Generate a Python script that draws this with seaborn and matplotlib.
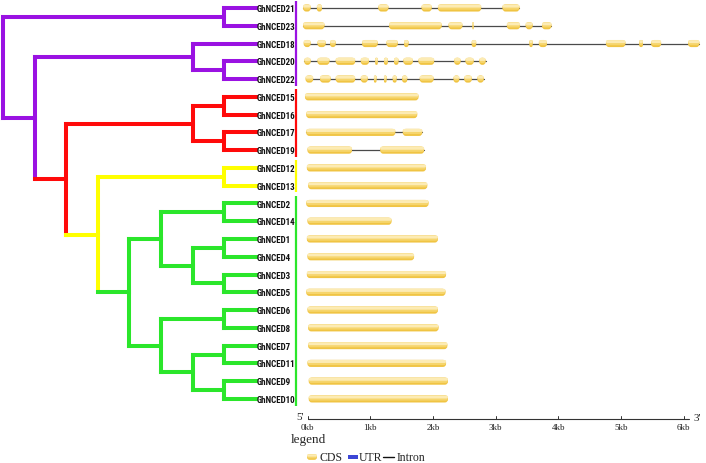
import numpy as np
import pandas as pd
import seaborn as sns
import matplotlib.pyplot as plt
from matplotlib.patches import FancyBboxPatch
from matplotlib import font_manager as fm

# ---------------- data ----------------
genes = ['GhNCED21', 'GhNCED23', 'GhNCED18', 'GhNCED20', 'GhNCED22',
         'GhNCED15', 'GhNCED16', 'GhNCED17', 'GhNCED19',
         'GhNCED12', 'GhNCED13',
         'GhNCED2', 'GhNCED14', 'GhNCED1', 'GhNCED4', 'GhNCED3', 'GhNCED5',
         'GhNCED6', 'GhNCED8', 'GhNCED7', 'GhNCED11', 'GhNCED9', 'GhNCED10']

# cladogram: (clade colour, node depth, children)
tree = ('purple', 0, [
    ('purple', 7, ['GhNCED21', 'GhNCED23']),
    ('purple', 1, [
        ('purple', 6, ['GhNCED18', ('purple', 7, ['GhNCED20', 'GhNCED22'])]),
        ('red', 2, [
            ('red', 6, [('red', 7, ['GhNCED15', 'GhNCED16']),
                        ('red', 7, ['GhNCED17', 'GhNCED19'])]),
            ('yellow', 3, [
                ('yellow', 7, ['GhNCED12', 'GhNCED13']),
                ('green', 4, [
                    ('green', 5, [('green', 7, ['GhNCED2', 'GhNCED14']),
                                  ('green', 6, [('green', 7, ['GhNCED1', 'GhNCED4']),
                                                ('green', 7, ['GhNCED3', 'GhNCED5'])])]),
                    ('green', 5, [('green', 7, ['GhNCED6', 'GhNCED8']),
                                  ('green', 6, [('green', 7, ['GhNCED7', 'GhNCED11']),
                                                ('green', 7, ['GhNCED9', 'GhNCED10'])])]),
                ]),
            ]),
        ]),
    ]),
])
leaf_depth = 8

clade_names = ['purple', 'red', 'yellow', 'green']
clade_first = ['GhNCED21', 'GhNCED15', 'GhNCED12', 'GhNCED2']
clade_last = ['GhNCED22', 'GhNCED19', 'GhNCED13', 'GhNCED10']
palette = {'purple': '#9A12E2', 'red': '#FF0A0A', 'yellow': '#FFFF00', 'green': '#2BE62B'}

# exon (CDS) positions in kb
exons = {
    'GhNCED21': [(-0.07, 0.05), (0.15, 0.23), (1.13, 1.29), (1.82, 1.98), (2.08, 2.77), (3.11, 3.38)],
    'GhNCED23': [(-0.07, 0.27), (1.30, 2.14), (2.25, 2.47), (2.63, 2.65), (3.18, 3.39), (3.48, 3.59), (3.74, 3.89)],
    'GhNCED18': [(-0.06, 0.05), (0.16, 0.29), (0.36, 0.45), (0.87, 1.12), (1.26, 1.44), (1.54, 1.61),
                 (2.62, 2.69), (3.54, 3.59), (3.69, 3.82), (4.76, 5.07), (5.29, 5.35), (5.48, 5.64), (6.07, 6.25)],
    'GhNCED20': [(-0.05, 0.05), (0.16, 0.35), (0.45, 0.76), (0.85, 0.98), (1.08, 1.12), (1.22, 1.28),
                 (1.38, 1.45), (1.53, 1.68), (1.77, 2.02), (2.34, 2.44), (2.52, 2.65), (2.74, 2.84)],
    'GhNCED22': [(-0.03, 0.09), (0.20, 0.37), (0.45, 0.76), (0.85, 0.96), (1.06, 1.10), (1.22, 1.26),
                 (1.36, 1.42), (1.51, 1.59), (1.79, 2.01), (2.33, 2.42), (2.50, 2.62), (2.71, 2.81)],
    'GhNCED15': [(-0.04, 1.77)],
    'GhNCED16': [(-0.02, 1.75)],
    'GhNCED17': [(-0.02, 1.40), (1.52, 1.83)],
    'GhNCED19': [(0.00, 0.71), (1.16, 1.86)],
    'GhNCED12': [(-0.01, 1.89)],
    'GhNCED13': [(0.01, 1.91)],
    'GhNCED2': [(-0.02, 1.93)],
    'GhNCED14': [(0.00, 1.34)],
    'GhNCED1': [(-0.01, 2.08)],
    'GhNCED4': [(0.00, 1.70)],
    'GhNCED3': [(-0.01, 2.21)],
    'GhNCED5': [(-0.02, 2.20)],
    'GhNCED6': [(0.00, 2.08)],
    'GhNCED8': [(0.01, 2.09)],
    'GhNCED7': [(0.01, 2.23)],
    'GhNCED11': [(0.00, 2.21)],
    'GhNCED9': [(0.02, 2.24)],
    'GhNCED10': [(0.02, 2.24)],
}
scale_ticks = [0, 1, 2, 3, 4, 5, 6]
scale_labels = ['0kb', '1kb', '2kb', '3kb', '4kb', '5kb', '6kb']
scale_end = 6.08
legend_labels = ['CDS', 'UTR', 'Intron']

# ---------------- style ----------------
sns.set_style('white')
plt.rcParams['font.family'] = ['Liberation Sans', 'DejaVu Sans']
serif = ['Liberation Serif', 'DejaVu Serif']

# find a condensed bold sans font for the gene labels
label_prop = None
files = [f.fname for f in fm.fontManager.ttflist]
for key, size in [('LiberationSansNarrow-Bold.', 6.3), ('RobotoCondensed-Bold', 6.5),
                  ('Roboto_Condensed-Bold', 6.5), ('OpenSans_Condensed-Bold', 6.2),
                  ('OpenSansCondensed-Bold', 6.2), ('DejaVuSansCondensed-Bold.', 5.55)]:
    hits = [p for p in files if key in p.replace(' ', '')]
    if hits:
        label_prop = fm.FontProperties(fname=hits[0], size=size)
        break
if label_prop is None:
    label_prop = fm.FontProperties(family=['Liberation Sans', 'DejaVu Sans'], weight='bold', size=5.3)

W, H = 706, 464
fig = plt.figure(figsize=(W / 100, H / 100), dpi=100)

ROW0, ROWPX = 9.0, 17.77          # pixel of first row, pixels per row
ylims = ((H - ROW0) / ROWPX, -ROW0 / ROWPX)

LEV0, LEVPX = 3.0, 31.625
ax_t = fig.add_axes([0, 0, 300 / W, 1])
KB0, KBPX = 307.5, 62.7
ax_g = fig.add_axes([290 / W, 0, 416 / W, 1])

row = {g: i for i, g in enumerate(genes)}

# ---------------- tree ----------------
segs = []


def layout(node):
    color, level, kids = node
    ys = []
    for k in kids:
        if isinstance(k, str):
            ky, klev, kcol = row[k], leaf_depth, color
        else:
            ky, klev, kcol = layout(k), k[1], k[0]
        segs.append(([level, klev], [ky, ky], kcol))
        ys.append(ky)
    segs.append(([level, level], [min(ys), max(ys)], color))
    return (min(ys) + max(ys)) / 2


layout(tree)
rows = []
for i, (xs, ys, c) in enumerate(segs):
    for x, y in zip(xs, ys):
        rows.append({'x': x, 'y': y, 'seg': i, 'clade': c})
edges = pd.DataFrame(rows)
sns.lineplot(data=edges, x='x', y='y', units='seg', hue='clade', palette=palette,
             estimator=None, sort=False, linewidth=2.9, legend=False, ax=ax_t,
             solid_capstyle='projecting')

for g in genes:
    ax_t.text(leaf_depth + 0.03, row[g] + 0.03, g, va='center', ha='left',
              fontproperties=label_prop, color='#111111')

bar_x = (296 - LEV0) / LEVPX
for c, a, b in zip(clade_names, clade_first, clade_last):
    ax_t.plot([bar_x, bar_x], [row[a] - 0.42, row[b] + 0.38], color=palette[c], lw=1.6,
              solid_capstyle='butt')

ax_t.set_xlim(-LEV0 / LEVPX, (300 - LEV0) / LEVPX)
ax_t.set_ylim(*ylims)
ax_t.axis('off')

# ---------------- gene structures ----------------
irows = []
for g in genes:
    ex = exons[g]
    if len(ex) > 1:
        irows.append({'x': ex[0][0], 'y': row[g], 'gene': g})
        irows.append({'x': ex[-1][1], 'y': row[g], 'gene': g})
introns = pd.DataFrame(irows)
sns.lineplot(data=introns, x='x', y='y', units='gene', estimator=None, sort=False,
             color='#4a4a4a', linewidth=0.9, legend=False, ax=ax_g)

asp = KBPX / ROWPX
h = 0.40


def exon_patch(ax, s, e, y, hh, fc, z=3):
    w = e - s
    rs = min(0.05, w / 2 * 0.95, hh / asp / 2 * 0.95)
    p = FancyBboxPatch((s, y - hh / 2), w, hh, boxstyle=f'round,pad=0,rounding_size={rs}',
                       mutation_aspect=asp, fc=fc, ec='none', zorder=z)
    ax.add_patch(p)


def exon(ax, s, e, y, hh):
    exon_patch(ax, s, e, y, hh, '#F0C443', 3)
    exon_patch(ax, s, e, y - hh * 0.12, hh * 0.72, '#F6D56C', 4)
    exon_patch(ax, s, e, y - hh * 0.27, hh * 0.42, '#FCEBB4', 5)


for g in genes:
    for s, e in exons[g]:
        exon(ax_g, s, e, row[g], h)

# scale bar
ya = (420 - ROW0) / ROWPX
ax_g.plot([0, scale_end], [ya, ya], color='#333333', lw=0.8)
for t, lab in zip(scale_ticks, scale_labels):
    ax_g.plot([t, t], [ya, ya - 3 / ROWPX], color='#333333', lw=0.7)
    ax_g.text(t, (428 - ROW0) / ROWPX, lab, ha='center', va='center', fontsize=6.5,
              family=serif, color='#222222')
ax_g.text((300 - KB0) / KBPX, (417 - ROW0) / ROWPX, "5'", ha='center', va='center',
          fontsize=8, family=serif)
ax_g.text((697 - KB0) / KBPX, (419 - ROW0) / ROWPX, "3'", ha='center', va='center',
          fontsize=8, family=serif)

# legend
ax_g.text((291 - KB0) / KBPX, (440 - ROW0) / ROWPX, 'legend', ha='left', va='center',
          fontsize=9.5, family=serif)
yl = (458 - ROW0) / ROWPX
exon(ax_g, (307 - KB0) / KBPX, (317 - KB0) / KBPX, yl, 0.32)
ax_g.text((320 - KB0) / KBPX, yl, legend_labels[0], ha='left', va='center', fontsize=8.5,
          family=serif)
ax_g.fill_between([(348 - KB0) / KBPX, (358 - KB0) / KBPX], yl - 0.12, yl + 0.12,
                  color='#3C46D6', lw=0)
ax_g.text((359 - KB0) / KBPX, yl, legend_labels[1], ha='left', va='center', fontsize=8.5,
          family=serif)
ax_g.plot([(383 - KB0) / KBPX, (394 - KB0) / KBPX], [yl, yl], color='#111111', lw=1.0)
ax_g.text((397 - KB0) / KBPX, yl, legend_labels[2], ha='left', va='center', fontsize=8.5,
          family=serif)

ax_g.set_xlim((290 - KB0) / KBPX, (706 - KB0) / KBPX)
ax_g.set_ylim(*ylims)
ax_g.axis('off')

fig.savefig('out.png', dpi=100)
